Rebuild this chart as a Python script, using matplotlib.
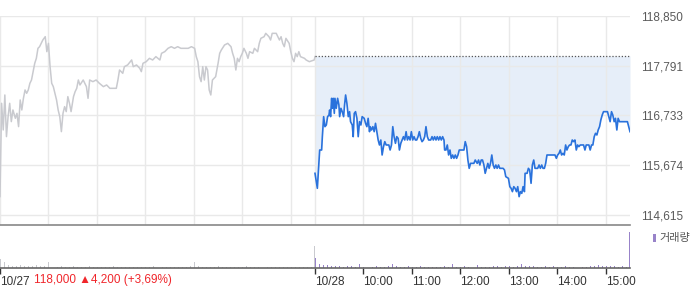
import matplotlib
matplotlib.use("Agg")
import matplotlib.pyplot as plt
import numpy as np
from matplotlib.patches import Rectangle

plt.rcParams["font.family"] = ["Liberation Sans", "Noto Sans CJK KR", "DejaVu Sans"]

# --- data (minutes from 09:00; day 2 is offset by one session = 390 min) ---
SESSION = 390
PREV_CLOSE = 118000

day1_min = [0, 2, 4, 6, 8, 10, 12, 14, 16, 19, 21, 23, 25, 27, 29, 31, 33, 35, 37, 39,
            41, 43, 45, 47, 49, 51, 53, 56, 58, 60, 62, 64, 66, 68, 70, 72, 74, 76, 78, 80,
            82, 84, 86, 88, 91, 93, 95, 97, 99, 103, 107, 109, 111, 115, 119, 123, 128, 132,
            136, 144, 146, 148, 152, 154, 158, 163, 165, 169, 173, 175, 177, 181, 185, 189,
            193, 198, 200, 204, 208, 212, 216, 220, 224, 228, 233, 237, 241, 243, 245, 247,
            249, 251, 253, 255, 257, 259, 261, 263, 265, 267, 270, 272, 274, 278, 282, 284,
            286, 288, 290, 292, 294, 296, 298, 300, 302, 305, 307, 309, 313, 315, 319, 321,
            323, 327, 329, 333, 335, 337, 342, 346, 348, 350, 352, 354, 358, 360, 362, 364,
            366, 368, 370, 372, 377, 379, 383, 389, 390]
day1_price = [115007, 116992, 116425, 117169, 116283, 116708, 116992, 116602, 116850, 116673,
              116779, 116496, 117063, 116850, 117098, 117276, 117205, 117276, 117418, 117488,
              117666, 117843, 117949, 118162, 118197, 118268, 118339, 118410, 118091, 118268,
              117772, 117418, 117347, 117205, 117063, 116850, 116708, 116389, 116779, 116921,
              116815, 117134, 116992, 116815, 117134, 117240, 117311, 117488, 117382, 117488,
              117347, 117098, 117488, 117453, 117488, 117418, 117347, 117382, 117311, 117311,
              117488, 117701, 117630, 117772, 117808, 117914, 117772, 117808, 117737, 117666,
              117843, 117878, 117949, 117914, 117985, 117914, 118056, 118091, 118162, 118197,
              118162, 118197, 118162, 118162, 118162, 118197, 118162, 117985, 117878, 117559,
              117453, 117772, 117488, 117772, 117701, 117276, 117169, 117488, 117524, 117559,
              117843, 118056, 118126, 118233, 118268, 118233, 118197, 118056, 117949, 117701,
              117949, 117878, 117985, 118056, 118162, 118056, 117949, 118091, 118056, 118162,
              118091, 118268, 118375, 118410, 118481, 118410, 118339, 118481, 118481, 118339,
              118410, 118268, 118197, 118375, 118268, 118091, 117949, 117878, 118056, 117985,
              118091, 117985, 117949, 117914, 117878, 117914, 117985]

day2_min = [0, 2.9, 5.8, 8.2, 9.1, 10.7, 12.3, 14, 15.6, 17.3, 18.1, 19.3, 20.6, 21.4, 22.6,
            23.9, 24.7, 26.3, 28, 29.6, 30.5, 32.1, 33.7, 35.4, 36.6, 37.9, 39.5, 41.2, 42.8,
            44, 46.1, 47.3, 48.6, 50.2, 51.9, 53.5, 55.1, 56.8, 58.4, 60.9, 62.6, 64.2, 65.8,
            67.5, 68.3, 70, 71.6, 73.3, 74.9, 76.5, 78.2, 79.8, 81.5, 83.1, 84.8, 86.4, 88.1,
            89.7, 91.4, 93, 94.7, 96.3, 97.9, 99.6, 101.2, 102.9, 104.5, 106.2, 107.8, 109.5,
            111.1, 112.8, 114.4, 116, 117.7, 119.3, 121, 122.6, 124.3, 125.9, 127.6, 129.2,
            130.9, 132.5, 134.2, 135.8, 137.4, 139.1, 140.7, 143.2, 144.9, 146.5, 148.1, 149.8,
            151.4, 153.1, 154.7, 156.4, 158, 159.7, 160.5, 162.1, 163.8, 165.4, 167.1, 168.7,
            170.4, 172, 173.7, 175.3, 177, 178.6, 181.9, 184.4, 186, 187.7, 189.3, 190.9,
            192.6, 194.2, 196.7, 198.4, 200.8, 202.5, 204.1, 205.8, 207.4, 209.1, 210.7, 212.3,
            214, 215.6, 217.3, 218.9, 220.6, 222.2, 223.9, 225.5, 227.2, 228.8, 230.5, 232.9,
            234.6, 236.2, 239.5, 241.2, 242.8, 244.4, 246.1, 247.7, 249.4, 251, 252.7, 254.3,
            256, 257.6, 259.3, 260.1, 262.6, 264.2, 265.8, 267.5, 269.1, 270.8, 272.4, 274.1,
            275.7, 277.4, 279, 280.7, 282.3, 284, 285.6, 287.2, 288.9, 293, 297.1, 298.8, 300.4,
            302.1, 303.7, 305.3, 307, 308.6, 310.3, 311.9, 313.6, 315.2, 316.9, 318.5, 320.2,
            321.8, 323.5, 325.1, 326.7, 328.4, 330, 332.5, 334.2, 335.8, 337.4, 339.1, 340.7,
            342.4, 344, 345.7, 347.3, 349, 350.6, 352.3, 353.9, 355.6, 357.2, 359.7, 362.1,
            363.8, 365.4, 367.1, 368.7, 370.4, 372, 373.7, 375.3, 377, 379.4, 383.5, 386.8, 390]
day2_price = [115502, 115183, 115998, 115998, 116282, 116708, 116495, 116530, 116708, 116743,
              116849, 116708, 117098, 116885, 117098, 116778, 117098, 116885, 117098, 116956,
              116708, 116885, 116814, 116708, 116956, 117169, 116991, 116708, 116814, 116601,
              116530, 116282, 116778, 116814, 116672, 116282, 116601, 116530, 116708, 116672,
              116566, 116495, 116672, 116388, 116495, 116424, 116495, 116388, 116566, 116388,
              116211, 116105, 116211, 115892, 116069, 116176, 116105, 116105, 116105, 115998,
              116105, 116495, 116282, 116140, 116282, 116247, 115998, 116140, 116211, 116282,
              116211, 116388, 116211, 116282, 116211, 116388, 116211, 116282, 116211, 116211,
              116282, 116388, 116247, 116176, 116211, 116282, 116495, 116282, 116211, 116211,
              116282, 116211, 116282, 116211, 116282, 116211, 116282, 116211, 116282, 116211,
              115998, 115998, 116105, 115892, 115998, 115821, 115892, 115821, 115892, 115821,
              115892, 115998, 115998, 115998, 116176, 116069, 115785, 115608, 115714, 115714,
              115714, 115785, 115714, 115785, 115679, 115785, 115785, 115679, 115502, 115608,
              115714, 115608, 115714, 115892, 115679, 115608, 115679, 115608, 115679, 115608,
              115608, 115608, 115573, 115431, 115395, 115218, 115183, 115112, 115218, 115183,
              115112, 115218, 115005, 115112, 115076, 115218, 115112, 115502, 115502, 115608,
              115573, 115289, 115679, 115785, 115608, 115608, 115608, 115679, 115608, 115679,
              115608, 115608, 115714, 115892, 115892, 115892, 115892, 115821, 115892, 115927,
              115998, 115892, 115927, 115892, 116105, 115998, 116069, 116105, 116105, 116211,
              116176, 116211, 115998, 116105, 116069, 116105, 116105, 116105, 115998, 116105,
              116105, 116105, 115998, 116105, 116105, 116282, 116353, 116318, 116424, 116495,
              116637, 116743, 116814, 116814, 116814, 116708, 116601, 116814, 116743, 116601,
              116672, 116424, 116672, 116601, 116601, 116601, 116601, 116388]

# volume, 5-minute buckets (relative units)
day1_vol = [9, 6, 3, 2, 2, 3, 2, 2, 2, 3, 2, 2, 6, 2, 1, 2, 1, 1, 2, 1, 1, 1, 2, 1, 1, 1,
            1, 1, 2, 1, 1, 1, 1, 1, 1, 1, 1, 1, 2, 1, 1, 1, 1, 1, 1, 1, 1, 2, 6, 2, 1, 1,
            1, 1, 2, 1, 1, 1, 1, 1, 1, 2, 1, 1, 1, 2, 1, 1, 1, 1, 1, 1, 1, 1, 1, 1, 1, 1]
day2_vol = [10, 4, 3, 3, 2, 2, 2, 1, 2, 2, 1, 4, 1, 2, 1, 2, 1, 1, 2, 4, 2, 1, 1, 2, 1, 1,
            2, 1, 1, 1, 1, 1, 2, 1, 4, 1, 1, 2, 1, 1, 3, 1, 1, 1, 2, 2, 1, 2, 2, 1, 2, 4,
            2, 2, 2, 1, 1, 2, 1, 2, 1, 1, 2, 1, 1, 2, 1, 1, 2, 2, 3, 2, 2, 2, 2, 1, 2, 1]
close_min = [389, 779]
close_vol = [22, 36]

grid_x = [0, 60, 120, 180, 240, 300, 360, 390, 450, 510, 570, 630, 690, 750]
tick_x = [0, 390, 450, 510, 570, 630, 690, 750]
tick_lbl = ["10/27", "10/28", "10:00", "11:00", "12:00", "13:00", "14:00", "15:00"]
y_ticks = [114615, 115674, 116733, 117791, 118850]

GRAY = "#c9cacf"
BLUE = "#2a72dc"
FILL = "#e6eef9"
PURPLE = "#9883c9"
GRID = "#e9e9e9"

fig = plt.figure(figsize=(7.0, 2.89), dpi=100)
ax = fig.add_axes([0, 1 - 225 / 289, 630 / 700, 209 / 289])
axv = fig.add_axes([0, 1 - 268 / 289, 630 / 700, 40 / 289])

x2 = SESSION + np.array(day2_min)
ax.fill_between(x2, day2_price, PREV_CLOSE, color=FILL, lw=0, zorder=1)
ax.plot(day1_min, day1_price, color=GRAY, lw=1.1, zorder=3)
ax.plot(x2, day2_price, color=BLUE, lw=1.2, zorder=3)
ax.hlines(PREV_CLOSE, SESSION, 2 * SESSION, colors="#555555", lw=0.9,
          linestyles=(0, (1, 1.5)), zorder=4)

ax.set_xlim(0, 2 * SESSION)
ax.set_ylim(114402, 118850)
ax.set_xticks(grid_x)
ax.set_yticks(y_ticks)
ax.set_yticklabels([f"{v:,}" for v in y_ticks])
ax.yaxis.tick_right()
ax.tick_params(axis="y", length=0, pad=8, labelsize=8.5, labelcolor="#5a5a5a")
ax.tick_params(axis="x", length=0, labelbottom=False)
ax.grid(True, color=GRID, lw=1, zorder=0)
for s in ["top", "right", "left"]:
    ax.spines[s].set_visible(False)
ax.spines["bottom"].set_color("#888888")
ax.spines["bottom"].set_linewidth(1.2)

# volume
b1 = np.arange(len(day1_vol)) * 5
b2 = SESSION + np.arange(len(day2_vol)) * 5
axv.bar(b1, day1_vol, width=1.2, color=GRAY, align="edge", lw=0)
axv.bar(b2, day2_vol, width=1.2, color=PURPLE, align="edge", lw=0)
axv.bar(close_min, close_vol, width=1.2, color=[GRAY, PURPLE], align="edge", lw=0)
axv.set_xlim(0, 2 * SESSION)
axv.set_ylim(0, 40)
axv.set_yticks([])
axv.set_xticks(tick_x)
axv.set_xticklabels(tick_lbl)
for lbl in axv.get_xticklabels():
    lbl.set_ha("left")
axv.tick_params(axis="x", length=4, width=1, color="#333333", pad=1.5,
                labelsize=8.5, labelcolor="#333333")
for s in ["top", "right", "left"]:
    axv.spines[s].set_visible(False)
axv.spines["bottom"].set_color("#666666")
axv.spines["bottom"].set_linewidth(1.2)

fig.text(34 / 700, 1 - 280 / 289, "118,000 \u25b24,200 (+3,69%)", color="#f0262b",
         fontsize=8.5, va="center", ha="left")

fig.patches.append(Rectangle((653 / 700, 1 - 242 / 289), 3 / 700, 8 / 289,
                             transform=fig.transFigure, color=PURPLE, lw=0))
fig.text(659 / 700, 1 - 238 / 289, "거래량", color="#555555", fontsize=8,
         va="center", ha="left")

fig.savefig("out.png", dpi=100)
